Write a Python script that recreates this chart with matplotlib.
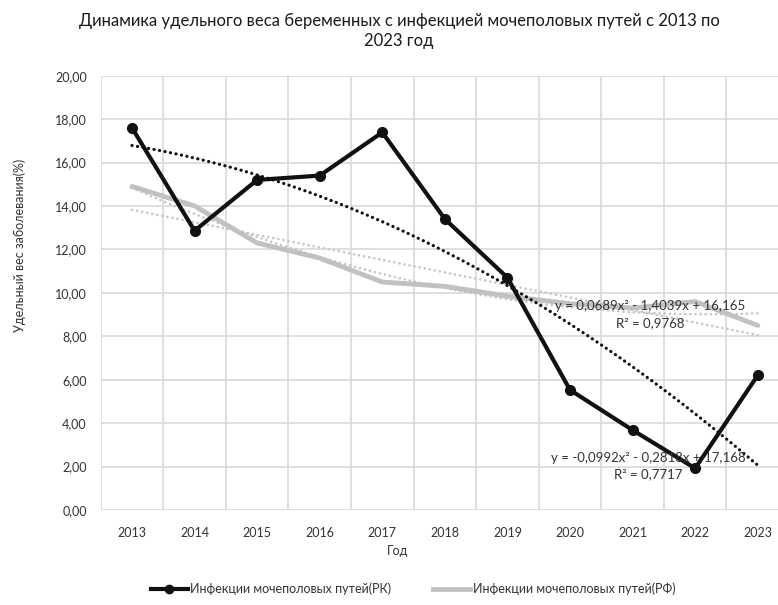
import numpy as np
import matplotlib
matplotlib.use('Agg')
import matplotlib.pyplot as plt
from matplotlib.lines import Line2D

plt.rcParams['font.family'] = ['Lato', 'DejaVu Sans']

years = ['2013', '2014', '2015', '2016', '2017', '2018', '2019', '2020', '2021', '2022', '2023']
rk = [17.6, 12.86, 15.2, 15.4, 17.39, 13.4, 10.7, 5.53, 3.68, 1.92, 6.2]
rf = [14.9, 14.0, 12.3, 11.6, 10.5, 10.3, 9.85, 9.5, 9.3, 9.6, 8.5]

# trendline coefficients as printed on the chart (x = 1..11)
rk_trend = [-0.0992, -0.2818, 17.168]
rf_trend = [0.0689, -1.4039, 16.165]
rk_label = ['y = -0,0992x² - 0,2818x + 17,168', 'R² = 0,7717']
rf_label = ['y = 0,0689x² - 1,4039x + 16,165', 'R² = 0,9768']

title = 'Динамика удельного веса беременных с инфекцией мочеполовых путей с 2013 по\n2023 год'
ylabel = 'Удельный вес заболевания(%)'
xlabel = 'Год'
legend_labels = ['Инфекции мочеполовых путей(РК)', 'Инфекции мочеполовых путей(РФ)']

TXT = '#333333'
GRID = '#d9d9d9'
GREY = '#bfc1c3'
GREY_DOT = '#c4c6c8'

W, H = 778, 605
fig = plt.figure(figsize=(W / 100, H / 100), dpi=100)
left, right, top, bottom = 100.7, 789, 75.7, 510
ax = fig.add_axes([left / W, 1 - bottom / H, (right - left) / W, (bottom - top) / H])

x = np.arange(len(years))
xs = np.linspace(0, len(years) - 1, 200)

# trend lines
dots = (0, (0.05, 1.9))
ax.plot(xs, np.polyval(rf_trend, xs + 1), color=GREY_DOT, lw=1.9,
        linestyle=dots, dash_capstyle='round', zorder=2)
lin = np.polyfit(x, rf, 1)
ax.plot(xs, np.polyval(lin, xs), color=GREY_DOT, lw=1.9,
        linestyle=dots, dash_capstyle='round', zorder=2)
ax.plot(xs, np.polyval(rk_trend, xs + 1), color='#111111', lw=2.3,
        linestyle=(0, (0.05, 1.7)), dash_capstyle='round', zorder=4)

# series
ax.plot(x, rf, color=GREY, lw=3.5, solid_capstyle='round', zorder=3)
ax.plot(x, rk, color='#111111', lw=3, marker='o', markersize=7, zorder=5)

ax.set_xlim(-0.5, len(years) - 0.5)
ax.set_ylim(0, 20)
ax.set_yticks(np.arange(0, 21, 2))
ax.set_yticklabels([f'{v:.2f}'.replace('.', ',') for v in np.arange(0, 21, 2)])
ax.set_xticks(x)
ax.set_xticklabels(years)
ax.set_xticks(np.arange(-0.5, len(years), 1), minor=True)
ax.tick_params(axis='both', which='both', length=0, labelsize=9, colors=TXT)
ax.tick_params(axis='y', pad=10)
ax.tick_params(axis='x', pad=12)
ax.grid(True, axis='y', which='major', color=GRID, lw=1.2, zorder=0)
ax.grid(True, axis='x', which='minor', color=GRID, lw=1.2, zorder=0)
ax.set_axisbelow(True)
for s in ax.spines.values():
    s.set_visible(False)

# equation labels
tc = dict(ha='center', va='center', fontsize=9.5, color=TXT, zorder=6)
fig.text(650 / W, 1 - 306 / H, rf_label[0], **tc)
fig.text(650 / W, 1 - 323 / H, rf_label[1], **tc)
fig.text(648 / W, 1 - 458 / H, rk_label[0], **tc)
fig.text(648 / W, 1 - 474 / H, rk_label[1], **tc)

fig.text(399 / W, 1 - 31 / H, title, ha='center', va='center', fontsize=12,
         color='#1a1a1a', linespacing=1.35)
fig.text(20 / W, 1 - 245 / H, ylabel, rotation=90, ha='center', va='center',
         fontsize=9, color=TXT)
fig.text(398 / W, 1 - 551 / H, xlabel, ha='center', va='center', fontsize=9, color=TXT)

handles = [Line2D([0], [0], color='#111111', lw=3, marker='o', markersize=6),
           Line2D([0], [0], color=GREY, lw=3.5)]
fig.legend(handles, legend_labels, loc='center', bbox_to_anchor=(413 / W, 1 - 589 / H),
           ncol=2, frameon=False, fontsize=9, handlelength=3.0, handletextpad=0.2,
           columnspacing=3.3, labelcolor=TXT)

fig.savefig('out.png', dpi=100)
